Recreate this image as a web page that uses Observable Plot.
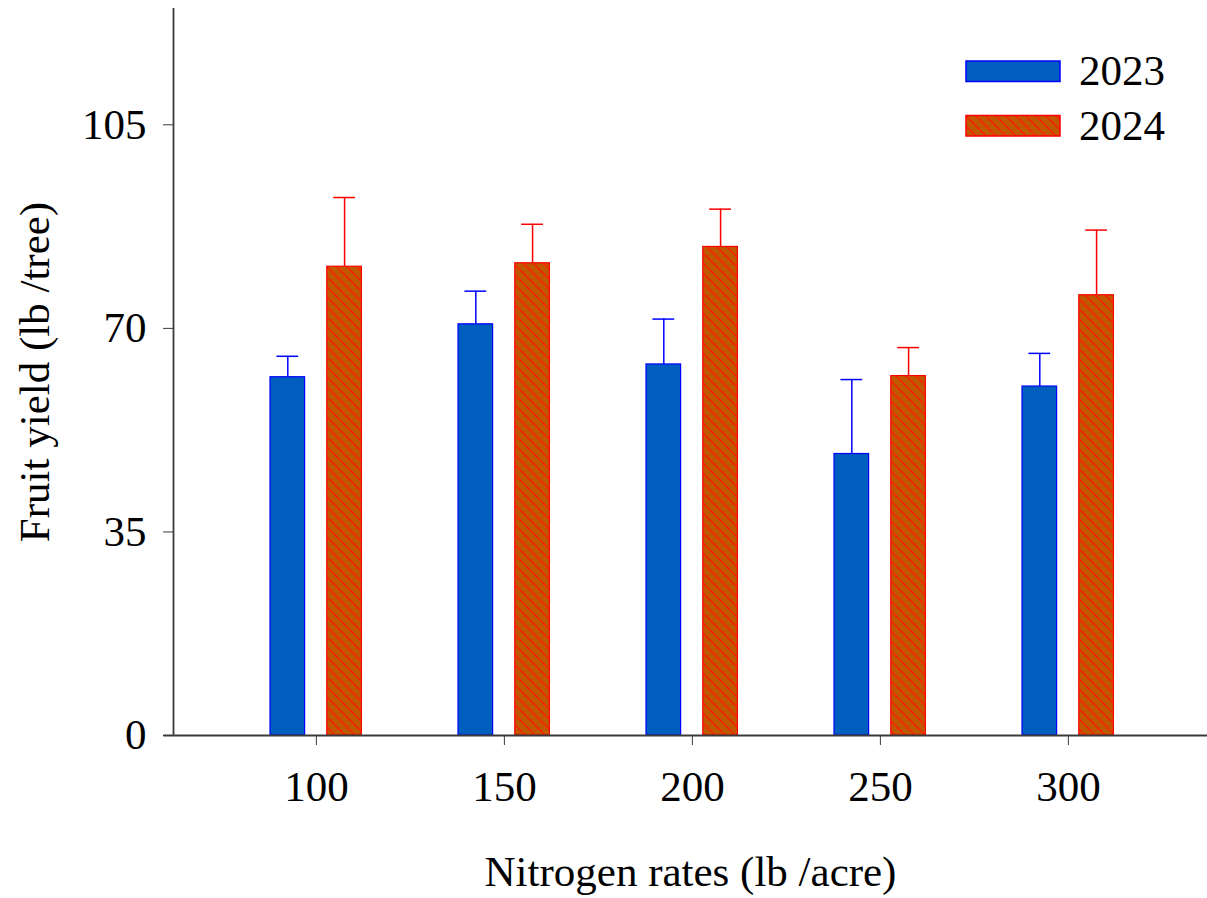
<!DOCTYPE html>
<html><head><meta charset="utf-8">
<script src="https://cdn.jsdelivr.net/npm/d3@7"></script>
<script src="https://cdn.jsdelivr.net/npm/@observablehq/plot@0.6"></script>
<style>body{margin:0;background:#fff} #chart{width:1207px;height:898px}</style>
</head><body><div id="chart"></div>
<script>
const rates = [100, 150, 200, 250, 300];
const years = ["2023", "2024"];
const yield2023 = [61.6, 70.7, 63.8, 48.4, 60.0];
const err2023 = [3.6, 5.7, 7.8, 12.8, 5.7];
const yield2024 = [80.6, 81.2, 84.0, 61.8, 75.7];
const err2024 = [11.9, 6.7, 6.5, 4.9, 11.2];
const yTicks = [0, 35, 70, 105];
const xLabel = "Nitrogen rates (lb /acre)";
const yLabel = "Fruit yield (lb /tree)";

const rows = rates.flatMap((r, i) => [
  {rate: r, year: years[0], value: yield2023[i], err: err2023[i]},
  {rate: r, year: years[1], value: yield2024[i], err: err2024[i]}
]);
const off = {"2023": -7.6, "2024": 7.5};
const half = 4.6, cap = 2.9;
const edge = {"2023": "#0000ff", "2024": "#ff0000"};
const cx = d => d.rate + off[d.year];

const font = "'Liberation Serif', 'Times New Roman', serif";
const fs = 43;
const svg = Plot.plot({
  width: 1207, height: 898,
  marginLeft: 173, marginRight: 0, marginTop: 8, marginBottom: 163,
  style: {fontFamily: font, fontSize: fs + "px", color: "#000", background: "#fff"},
  x: {domain: [62, 337]},
  y: {domain: [0, 125]},
  marks: [
    Plot.ruleX(rows.filter(d => d.year === "2023"), {x: cx, y1: "value", y2: d => d.value + d.err, stroke: edge["2023"], strokeWidth: 1.5}),
    Plot.ruleX(rows.filter(d => d.year === "2024"), {x: cx, y1: "value", y2: d => d.value + d.err, stroke: edge["2024"], strokeWidth: 1.5}),
    Plot.ruleY(rows.filter(d => d.year === "2023"), {y: d => d.value + d.err, x1: d => cx(d) - cap, x2: d => cx(d) + cap, stroke: edge["2023"], strokeWidth: 1.5}),
    Plot.ruleY(rows.filter(d => d.year === "2024"), {y: d => d.value + d.err, x1: d => cx(d) - cap, x2: d => cx(d) + cap, stroke: edge["2024"], strokeWidth: 1.5}),
    Plot.rectY(rows.filter(d => d.year === "2023"), {x1: d => cx(d) - half, x2: d => cx(d) + half, y1: 0, y2: "value", fill: "#005ebf", stroke: "#0000ff", strokeWidth: 1.2}),
    Plot.rectY(rows.filter(d => d.year === "2024"), {x1: d => cx(d) - half, x2: d => cx(d) + half, y1: 0, y2: "value", fill: "url(#hatch)", stroke: "#ff0000", strokeWidth: 1.2}),
    Plot.ruleX([62], {y1: 0, y2: 125, stroke: "#3a3a3a", strokeWidth: 1.8}),
    Plot.ruleY([0], {x1: 59.4, x2: 337, stroke: "#3a3a3a", strokeWidth: 1.8}),
    Plot.axisY({ticks: yTicks, tickSize: 10, tickPadding: 17, label: null, stroke: "#3a3a3a"}),
    Plot.axisX({ticks: rates, tickSize: 10, tickPadding: 25, label: null, stroke: "#3a3a3a"}),
    Plot.text([yLabel], {frameAnchor: "left", rotate: -90, dx: -138, textAnchor: "middle", lineAnchor: "middle", fontSize: fs}),
    Plot.text([xLabel], {frameAnchor: "bottom", dy: 137, textAnchor: "middle", lineAnchor: "middle", fontSize: fs})
  ]
});

const s = d3.select(svg);
const defs = s.insert("defs", ":first-child");
const pat = defs.append("pattern").attr("id", "hatch").attr("patternUnits", "userSpaceOnUse")
  .attr("width", 10).attr("height", 10);
pat.append("rect").attr("width", 10).attr("height", 10).attr("fill", "#c05800");
pat.append("path").attr("d", "M0,0L10,10M-1,9L1,11M9,-1L11,1").attr("stroke", "#ff1a00").attr("stroke-width", 1.3);

const leg = s.append("g");
years.forEach((y, i) => {
  const top = 61 + i * 54.5;
  leg.append("rect").attr("x", 966).attr("y", top).attr("width", 94).attr("height", 20.5)
    .attr("fill", i === 0 ? "#005ebf" : "url(#hatch)").attr("stroke", edge[y]).attr("stroke-width", 1.5);
  leg.append("text").attr("x", 1079).attr("y", top + 24).attr("font-family", font)
    .attr("text-anchor", "start").attr("font-size", fs).attr("fill", "#000").text(y);
});

document.getElementById("chart").appendChild(svg);
</script>
</body></html>
